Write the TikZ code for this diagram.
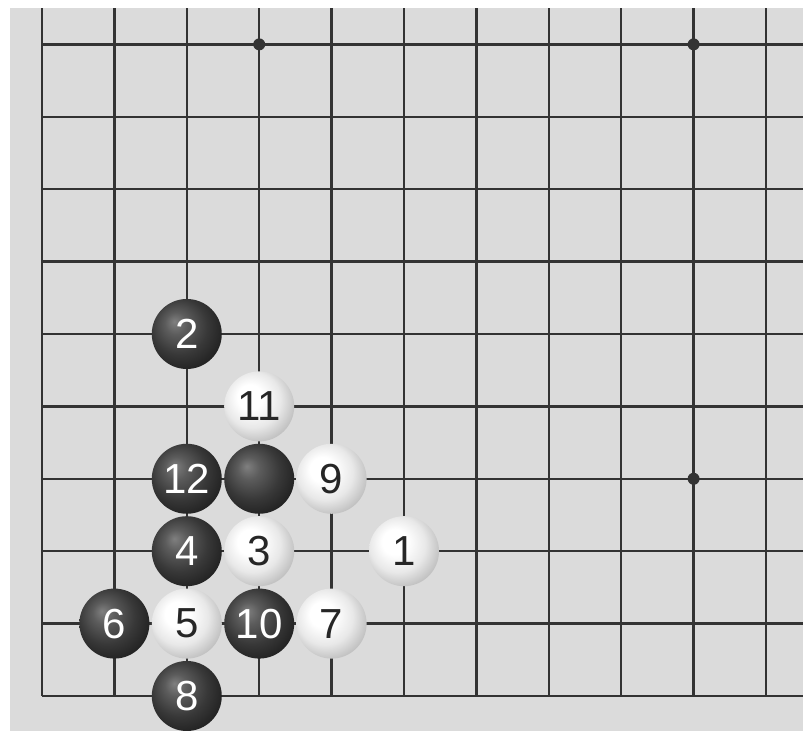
\documentclass[tikz,border=0pt]{standalone}
\usepackage{fontspec}
\newfontfamily\stonefont{Liberation Sans}
\usepackage{tikz}
\pgfdeclareradialshading{blackstone}{\pgfpoint{-9bp}{9bp}}{color(0bp)=(black!50);color(8bp)=(black!64);color(20bp)=(black!78);color(34bp)=(black!90);color(50bp)=(black)}
\pgfdeclareradialshading{whitestone}{\pgfpoint{-8bp}{8bp}}{color(0bp)=(white);color(9bp)=(white);color(20bp)=(black!9);color(29bp)=(black!24);color(38bp)=(black!40);color(50bp)=(black!45)}

\begin{document}
\begin{tikzpicture}[x=72.4pt,y=72.4pt,
gridline/.style={line width=2.3pt,black!80},
hoshi/.style={circle,fill=black!80,minimum size=12pt,inner sep=0pt},
bstone/.style={circle,minimum size=70pt,inner sep=0pt,shading=blackstone,text=white,font=\stonefont\fontsize{42}{42}\selectfont},
wstone/.style={circle,minimum size=70pt,inner sep=0pt,shading=whitestone,text=black!85,font=\stonefont\fontsize{42}{42}\selectfont}]
\useasboundingbox(-0.580,-0.483)rectangle(10.511,9.613);
\fill[black!14](-0.442,-0.483)rectangle(10.511,9.503);
% board
\foreach \i in {0,...,10}\draw[gridline](\i,0)--(\i,9.503);
\foreach \j in {0,...,9}\draw[gridline](0,\j)--(10.511,\j);
\node[hoshi](h1)at(3,9){};
\node[hoshi](h2)at(9,9){};
\node[hoshi](h3)at(9,3){};
% stones
\node[wstone](s1)at(5,2){1};
\node[bstone](s2)at(2,5){2};
\node[wstone](s3)at(3,2){3};
\node[bstone](s4)at(2,2){4};
\node[wstone](s5)at(2,1){5};
\node[bstone](s6)at(1,1){6};
\node[wstone](s7)at(4,1){7};
\node[bstone](s8)at(2,0){8};
\node[wstone](s9)at(4,3){9};
\node[bstone](s10)at(3,1){10};
\node[wstone](s11)at(3,4){11};
\node[bstone](s12)at(2,3){12};
\node[bstone](s0)at(3,3){};
\end{tikzpicture}
\end{document}
